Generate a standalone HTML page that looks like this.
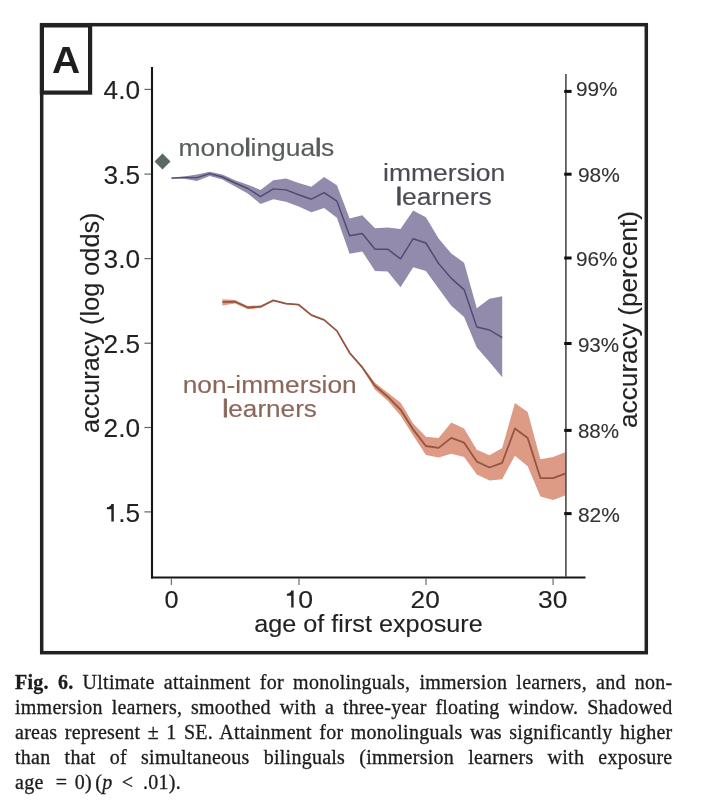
<!DOCTYPE html>
<html><head><meta charset="utf-8"><title>Fig. 6</title>
<style>
html,body{margin:0;padding:0;background:#fff;}
body{width:719px;height:803px;position:relative;overflow:hidden;font-family:"Liberation Serif",serif;}
.cl{position:absolute;left:15px;width:657.5px;height:25px;line-height:25px;font-size:20px;color:#1c1c1c;text-align:justify;text-align-last:justify;white-space:nowrap;letter-spacing:0.25px;-webkit-text-stroke:0.3px #1c1c1c;}
.cl.last{text-align:left;text-align-last:left;word-spacing:2px;}
#wrap{position:absolute;left:0;top:0;width:719px;height:803px;will-change:transform;transform:translateZ(0);}
</style></head><body><div id="wrap">
<svg width="719" height="665" viewBox="0 0 719 665" style="position:absolute;left:0;top:0" font-family="'Liberation Sans', sans-serif">
<rect x="41.7" y="24.7" width="604.6" height="628.0" fill="none" stroke="#222" stroke-width="3.5"/>
<rect x="41.9" y="25.4" width="48.2" height="67.2" fill="none" stroke="#222" stroke-width="4.2"/>
<text transform="translate(51.95,73.30) scale(1.0545,1)" font-size="37" font-weight="bold" fill="#1e1e1e">A</text>
<polygon points="171.5,177.4 184.2,176.4 196.9,174.6 209.7,171.8 222.4,174.6 235.1,180.2 247.8,184.8 260.5,189.9 273.3,180.2 286.0,178.4 298.7,182.9 311.4,186.7 324.1,177.0 336.9,185.3 349.6,218.6 362.3,215.3 375.0,228.3 387.7,227.5 400.5,229.0 413.2,210.4 425.9,217.3 438.6,238.6 451.3,253.5 464.1,262.7 476.8,308.3 489.5,298.8 502.2,296.3 502.2,377.3 489.5,361.9 476.8,347.4 464.1,317.0 451.3,305.8 438.6,288.4 425.9,270.9 413.2,267.2 400.5,287.3 387.7,271.6 375.0,270.9 362.3,251.5 349.6,253.7 336.9,217.7 324.1,208.0 311.4,212.2 298.7,206.6 286.0,201.7 273.3,199.2 260.5,204.0 247.8,193.4 235.1,186.4 222.4,179.5 209.7,176.0 196.9,181.1 184.2,178.8 171.5,178.8" fill="#928bab"/>
<polyline points="171.5,178.1 184.2,177.4 196.9,177.6 209.7,173.6 222.4,177.0 235.1,183.0 247.8,188.5 260.5,196.6 273.3,188.9 286.0,189.9 298.7,194.8 311.4,199.2 324.1,192.7 336.9,201.2 349.6,235.8 362.3,233.5 375.0,249.2 387.7,249.2 400.5,258.9 413.2,238.7 425.9,243.0 438.6,263.5 451.3,278.4 464.1,289.6 476.8,327.0 489.5,330.0 502.2,337.7" fill="none" stroke="#504a72" stroke-width="1.45" stroke-linejoin="round"/>
<polygon points="222.4,299.2 235.1,300.0 247.8,305.9 260.5,305.4 273.3,299.9 286.0,303.2 298.7,304.2 311.4,314.6 324.1,319.4 336.9,330.4 349.6,352.3 362.3,366.2 375.0,382.7 387.7,392.7 400.5,402.6 413.2,423.6 425.9,436.8 438.6,437.9 451.3,422.6 464.1,428.5 476.8,449.8 489.5,455.2 502.2,448.1 514.9,402.9 527.7,411.9 540.4,459.2 553.1,456.9 565.8,452.1 565.8,495.2 553.1,500.1 540.4,496.6 527.7,466.3 514.9,455.7 502.2,479.3 489.5,480.5 476.8,474.6 464.1,456.9 451.3,453.8 438.6,457.6 425.9,455.0 413.2,435.6 400.5,415.6 387.7,400.7 375.0,389.7 362.3,368.6 349.6,353.3 336.9,331.4 324.1,320.4 311.4,315.6 298.7,305.2 286.0,304.2 273.3,300.9 260.5,308.0 247.8,309.2 235.1,303.4 222.4,305.4" fill="#dd9a84"/>
<polyline points="222.4,302.2 235.1,301.7 247.8,307.5 260.5,306.7 273.3,300.4 286.0,303.7 298.7,304.7 311.4,315.1 324.1,319.9 336.9,330.9 349.6,352.8 362.3,367.4 375.0,385.7 387.7,396.7 400.5,409.6 413.2,429.6 425.9,446.0 438.6,447.9 451.3,437.9 464.1,442.7 476.8,461.6 489.5,467.5 502.2,462.8 514.9,428.5 527.7,437.9 540.4,478.1 553.1,478.1 565.8,473.4" fill="none" stroke="#965540" stroke-width="1.8" stroke-linejoin="round"/>
<polygon points="154.5,161.6 162.5,153.6 170.5,161.6 162.5,169.6" fill="#5c6862"/>
<line x1="152" y1="66.9" x2="152" y2="578.6" stroke="#161616" stroke-width="2.1"/>
<line x1="151" y1="577.5" x2="585.5" y2="577.5" stroke="#161616" stroke-width="2.2"/>
<line x1="565.9" y1="73.9" x2="565.9" y2="577" stroke="#555" stroke-width="1.7"/>
<line x1="144.4" y1="89.4" x2="151" y2="89.4" stroke="#666" stroke-width="1.2"/>
<line x1="144.4" y1="174.1" x2="151" y2="174.1" stroke="#666" stroke-width="1.2"/>
<line x1="144.4" y1="258.6" x2="151" y2="258.6" stroke="#666" stroke-width="1.2"/>
<line x1="144.4" y1="343.2" x2="151" y2="343.2" stroke="#666" stroke-width="1.2"/>
<line x1="144.4" y1="427.5" x2="151" y2="427.5" stroke="#666" stroke-width="1.2"/>
<line x1="144.4" y1="511.9" x2="151" y2="511.9" stroke="#666" stroke-width="1.2"/>
<line x1="564.2" y1="91.4" x2="571.6" y2="91.4" stroke="#111" stroke-width="3.0"/>
<line x1="564.2" y1="174.2" x2="571.6" y2="174.2" stroke="#111" stroke-width="3.0"/>
<line x1="564.2" y1="258.0" x2="571.6" y2="258.0" stroke="#111" stroke-width="3.0"/>
<line x1="564.2" y1="343.5" x2="571.6" y2="343.5" stroke="#111" stroke-width="3.0"/>
<line x1="564.2" y1="430.4" x2="571.6" y2="430.4" stroke="#111" stroke-width="3.0"/>
<line x1="564.2" y1="513.6" x2="571.6" y2="513.6" stroke="#111" stroke-width="3.0"/>
<line x1="171.4" y1="578" x2="171.4" y2="585" stroke="#777" stroke-width="1.3"/>
<line x1="299.0" y1="578" x2="299.0" y2="585" stroke="#777" stroke-width="1.3"/>
<line x1="426.0" y1="578" x2="426.0" y2="585" stroke="#777" stroke-width="1.3"/>
<line x1="553.1" y1="578" x2="553.1" y2="585" stroke="#777" stroke-width="1.3"/>
<text transform="translate(178.62,155.80) scale(1.0735,1)" font-size="24.6" fill="#595c5c" stroke="#595c5c" stroke-width="0.15" stroke-linejoin="round">mono<tspan stroke-width="0.85">l</tspan>ingua<tspan stroke-width="0.85">l</tspan>s</text>
<text transform="translate(383.11,180.60) scale(1.0773,1)" font-size="24.6" fill="#4b4b54" stroke="#4b4b54" stroke-width="0.15" stroke-linejoin="round">immersion</text>
<text transform="translate(396.01,205.20) scale(1.0794,1)" font-size="24.6" fill="#4b4b54" stroke="#4b4b54" stroke-width="0.15" stroke-linejoin="round"><tspan stroke-width="0.85">l</tspan>earners</text>
<text transform="translate(182.63,393.10) scale(1.0706,1)" font-size="24.6" fill="#8b6659" stroke="#8b6659" stroke-width="0.15" stroke-linejoin="round">non-immersion</text>
<text transform="translate(222.54,417.00) scale(1.0620,1)" font-size="24.6" fill="#8b6659" stroke="#8b6659" stroke-width="0.15" stroke-linejoin="round"><tspan stroke-width="0.85">l</tspan>earners</text>
<text transform="translate(254.17,631.70) scale(1.0265,1)" font-size="24.6" fill="#222" stroke="#222" stroke-width="0.12" stroke-linejoin="round">age of first exposure</text>
<text transform="translate(99.00,433.00) rotate(-90) scale(0.9993,1.0250)" font-size="25.3" fill="#222" stroke="#222" stroke-width="0.12" stroke-linejoin="round">accuracy (log odds)</text>
<text transform="translate(637.00,428.00) rotate(-90) scale(1.0047,1.0000)" font-size="26.1" fill="#222" stroke="#222" stroke-width="0.12" stroke-linejoin="round">accuracy (percent)</text>
<text transform="translate(103.56,99.00) scale(1.0500,1)" font-size="25.0" fill="#222" stroke="#222" stroke-width="0.12" stroke-linejoin="round">4.0</text>
<text transform="translate(103.56,183.60) scale(1.0500,1)" font-size="25.0" fill="#222" stroke="#222" stroke-width="0.12" stroke-linejoin="round">3.5</text>
<text transform="translate(103.56,268.00) scale(1.0500,1)" font-size="25.0" fill="#222" stroke="#222" stroke-width="0.12" stroke-linejoin="round">3.0</text>
<text transform="translate(103.56,352.60) scale(1.0500,1)" font-size="25.0" fill="#222" stroke="#222" stroke-width="0.12" stroke-linejoin="round">2.5</text>
<text transform="translate(103.56,437.00) scale(1.0500,1)" font-size="25.0" fill="#222" stroke="#222" stroke-width="0.12" stroke-linejoin="round">2.0</text>
<text transform="translate(118.26,521.60) scale(1.0500,1)" font-size="25.0" fill="#222" stroke="#222" stroke-width="0.12" stroke-linejoin="round">.5</text>
<text transform="translate(164.48,607.60) scale(1.0600,1)" font-size="23.8" fill="#222" stroke="#222" stroke-width="0.12" stroke-linejoin="round">0</text>
<text transform="translate(298.18,607.60) scale(1.1200,1)" font-size="23.8" fill="#222" stroke="#222" stroke-width="0.12" stroke-linejoin="round">0</text>
<text transform="translate(410.62,607.60) scale(1.1010,1)" font-size="23.8" fill="#222" stroke="#222" stroke-width="0.12" stroke-linejoin="round">20</text>
<text transform="translate(538.09,607.60) scale(1.1102,1)" font-size="23.8" fill="#222" stroke="#222" stroke-width="0.12" stroke-linejoin="round">30</text>
<text transform="translate(575.99,95.90) scale(1.0127,1)" font-size="20.5" fill="#333" stroke="#333" stroke-width="0.12" stroke-linejoin="round">99%</text>
<text transform="translate(577.88,181.50) scale(1.0217,1)" font-size="20.5" fill="#333" stroke="#333" stroke-width="0.12" stroke-linejoin="round">98%</text>
<text transform="translate(575.99,265.90) scale(1.0127,1)" font-size="20.5" fill="#333" stroke="#333" stroke-width="0.12" stroke-linejoin="round">96%</text>
<text transform="translate(577.89,351.60) scale(1.0064,1)" font-size="20.5" fill="#333" stroke="#333" stroke-width="0.12" stroke-linejoin="round">93%</text>
<text transform="translate(577.90,437.80) scale(1.0038,1)" font-size="20.5" fill="#333" stroke="#333" stroke-width="0.12" stroke-linejoin="round">88%</text>
<text transform="translate(577.88,521.90) scale(1.0217,1)" font-size="20.5" fill="#333" stroke="#333" stroke-width="0.12" stroke-linejoin="round">82%</text>
<path d="M113.80,504.00 L113.80,521.60 L111.34,521.60 L111.34,509.33 L106.86,509.33 L106.86,507.32 C109.07,507.12 111.13,506.01 111.44,504.00 Z" fill="#222"/>
<path d="M293.60,590.60 L293.60,607.60 L291.22,607.60 L291.22,595.75 L286.90,595.75 L286.90,593.81 C289.03,593.61 291.03,592.54 291.32,590.60 Z" fill="#222"/>
</svg>
<div class="cl" style="top:670.2px"><b>Fig. 6.</b> Ultimate attainment for monolinguals, immersion learners, and non-</div>
<div class="cl" style="top:695.2px">immersion learners, smoothed with a three-year floating window. Shadowed</div>
<div class="cl" style="top:720.2px">areas represent ± 1 SE. Attainment for monolinguals was significantly higher</div>
<div class="cl" style="top:745.2px">than that of simultaneous bilinguals (immersion learners with exposure</div>
<div class="cl last" style="top:770.2px">age<span style="margin-left:5px"> =</span><span style="margin-left:0.3px"> 0)</span><span style="margin-left:-4px"> (<i>p</i></span><span style="margin-left:2px"> &lt;</span><span style="margin-left:2.6px"> .01).</span></div>
</div></body></html>
